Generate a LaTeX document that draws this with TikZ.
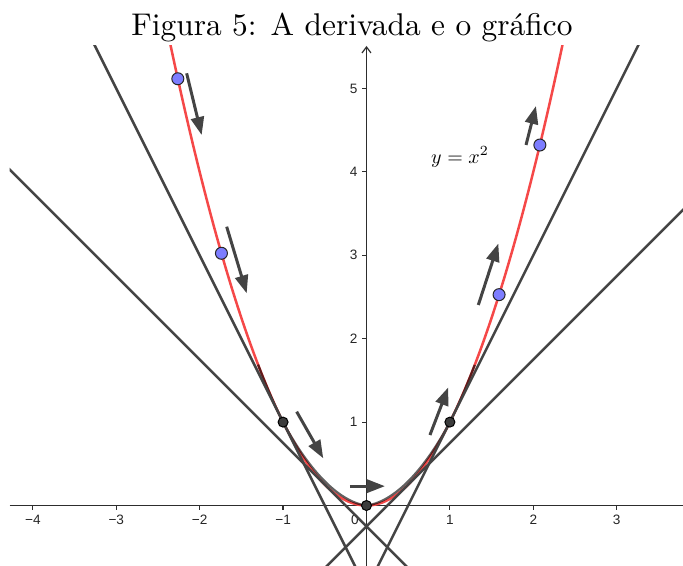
\documentclass[tikz,border=0pt]{standalone}
\usepackage{fontspec}
\setsansfont{Liberation Sans}
\usetikzlibrary{arrows.meta}
\definecolor{curvered}{RGB}{245,72,72}
\definecolor{linegray}{RGB}{68,68,68}
\definecolor{axisgray}{RGB}{45,45,45}
\definecolor{ptblue}{RGB}{125,125,255}
\definecolor{ptdark}{RGB}{60,60,60}
\tikzset{
 tangentline/.style={draw=linegray, line width=1.25pt},
 parab/.style={draw=curvered, line width=1.25pt},
 darkcurve/.style={draw=black, draw opacity=0.62, line width=1.1pt},
 vec/.style={draw=linegray, line width=1.5pt, -{Triangle[length=9pt,width=6.5pt]}},
 bluept/.style={circle, fill=ptblue, draw=black!85, line width=0.5pt, inner sep=0pt, minimum size=6pt},
 blackpt/.style={circle, fill=ptdark, draw=black, line width=0.5pt, inner sep=0pt, minimum size=5pt},
 ticklab/.style={font=\sffamily\fontsize{6.8}{8}\selectfont, text=black!85, inner sep=0pt},
 axisline/.style={draw=axisgray, line width=0.6pt},
}
\begin{document}
\begin{tikzpicture}[x=41.7pt,y=41.7pt]
\useasboundingbox (-4.394,-0.725) rectangle (3.795,6.061);
% title
\node[anchor=base, inner sep=0pt] (title) at (-0.174,5.63) {\scalebox{1.57}{\fontsize{10}{12}\selectfont Figura 5: A derivada e o gráfico}};
\begin{scope}
\clip (-4.28,-0.725) rectangle (3.795,5.52);
% axes
\draw[axisline] (-4.28,0) -- (3.795,0);
\foreach \i/\lab in {-4/−4,-3/−3,-2/−2,-1/−1,1/1,2/2,3/3}{
  \draw[axisline] (\i,0) -- ++(0,-2pt);
  \node[ticklab] (xl\i) at (\i,-0.168) {\lab};
}
\node[ticklab] (xl0) at (-0.14,-0.168) {0};
\foreach \j in {1,...,5}{
  \draw[axisline] (0,\j) -- ++(-2pt,0);
  \node[ticklab, anchor=east] (yl\j) at (-0.105,\j) {\j};
}
\end{scope}
\coordinate (ybot) at (0,-0.725);
\coordinate (ytop) at (0,5.51);
\draw[axisline, -{Straight Barb[length=3pt,width=4.5pt]}] (ybot) -- (ytop);
\begin{scope}
\clip (-4.28,-0.725) rectangle (3.795,5.52);
% parabola
\draw[parab] plot[domain=-2.4:2.4, samples=150, smooth] (\x,{\x*\x});
\draw[darkcurve] plot[domain=-1.3:1.3, samples=120, smooth] (\x,{\x*\x + (abs(\x)<1)*0.04*sin(180*abs(\x))});
% tangent lines
\draw[tangentline] plot[domain=-4.5:4] (\x,{-2*\x-1});
\draw[tangentline] plot[domain=-4.5:4] (\x,{-\x-0.25});
\draw[tangentline] plot[domain=-4.5:4] (\x,{\x-0.25});
\draw[tangentline] plot[domain=-4.5:4] (\x,{2*\x-1});
\end{scope}
% direction vectors
\coordinate (v1a) at (-2.156,5.182); \coordinate (v1b) at (-1.976,4.442);
\coordinate (v2a) at (-1.676,3.343); \coordinate (v2b) at (-1.436,2.544);
\coordinate (v3a) at (-0.837,1.125); \coordinate (v3b) at (-0.518,0.566);
\coordinate (v4a) at (-0.198,0.232); \coordinate (v4b) at (0.222,0.232);
\coordinate (v5a) at (0.761,0.845);  \coordinate (v5b) at (0.981,1.417);
\coordinate (v6a) at (1.341,2.404);  \coordinate (v6b) at (1.581,3.141);
\coordinate (v7a) at (1.913,4.323);  \coordinate (v7b) at (2.032,4.790);
\foreach \k in {1,...,7}{\draw[vec] (v\k a) -- (v\k b);}
% points
\node[bluept] (p1) at (-2.262,{2.262*2.262}) {};
\node[bluept] (p2) at (-1.739,{1.739*1.739}) {};
\node[bluept] (p3) at (1.590,{1.590*1.590}) {};
\node[bluept] (p4) at (2.079,{2.079*2.079}) {};
\node[blackpt] (q1) at (-1,1) {};
\node[blackpt] (q2) at (0,0) {};
\node[blackpt] (q3) at (1,1) {};
% label
\node[font=\fontsize{10}{12}\selectfont] (eq) at (1.121,4.179) {$y=x^2$};
\end{tikzpicture}
\end{document}
